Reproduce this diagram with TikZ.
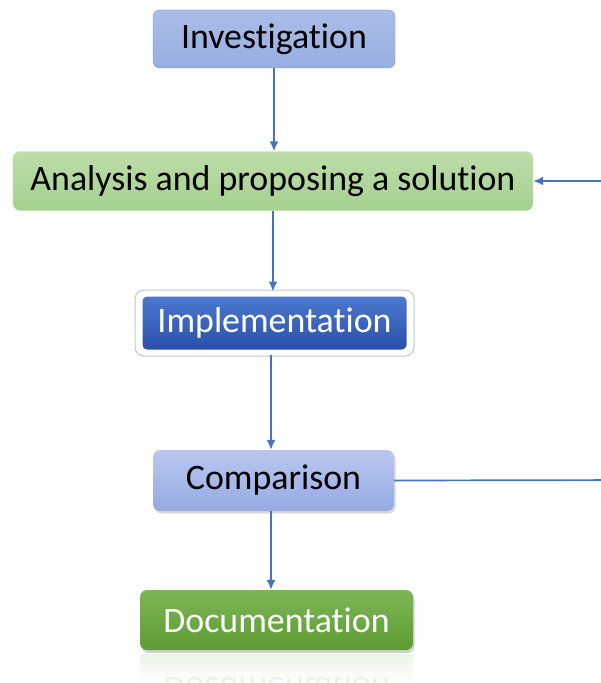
\documentclass[tikz,border=0pt]{standalone}
\usepackage{fontspec}
\setmainfont[Ligatures=NoCommon]{Carlito}
\usetikzlibrary{arrows.meta,shadows}
\definecolor{linkblue}{RGB}{68,114,196}
\definecolor{invtop}{RGB}{171,189,232}
\definecolor{invbot}{RGB}{152,174,226}
\definecolor{invline}{RGB}{112,142,212}
\definecolor{anatop}{RGB}{189,221,171}
\definecolor{anabot}{RGB}{165,208,142}
\definecolor{anaLine}{RGB}{200,226,184}
\definecolor{imptop}{RGB}{78,122,210}
\definecolor{impbot}{RGB}{40,78,166}
\definecolor{cmptop}{RGB}{186,199,240}
\definecolor{cmpbot}{RGB}{150,170,226}
\definecolor{doctop}{RGB}{124,182,84}
\definecolor{docbot}{RGB}{94,156,52}
\begin{document}
\begin{tikzpicture}[>={Latex[length=10bp,width=9bp]},line join=bevel,x=1bp,y=-1bp,
  box/.style={rounded corners=7bp,inner sep=0pt,font=\fontsize{36}{40}\selectfont},
  link/.style={draw=linkblue,line width=1.7bp,->}]
\useasboundingbox (0,0) rectangle (601,683);
\clip (0,0) rectangle (601,683);
%%
\node (node_0) at (274,39) [box,draw=invline,top color=invtop,bottom color=invbot,
  minimum width=242bp,minimum height=58bp] {Investigation};
\node (node_1) at (273,181) [box,draw=anaLine,top color=anatop,bottom color=anabot,
  minimum width=520bp,minimum height=59bp] {Analysis and proposing a solution};
\draw [gray!45,line width=1bp,rounded corners=9bp] (135,290) rectangle (414,356);
\node (node_2) at (274.5,323) [box,draw=white,line width=5bp,top color=imptop,bottom color=impbot,
  text=white,minimum width=269bp,minimum height=58bp] {Implementation};
\node (node_3) at (273.5,480.5) [box,top color=cmptop,bottom color=cmpbot,
  minimum width=241bp,minimum height=61bp,
  drop shadow={shadow xshift=1.5bp,shadow yshift=-2.5bp,opacity=0.3}] {Comparison};
\node (node_4) at (276.5,620) [box,top color=doctop,bottom color=docbot,text=white,
  minimum width=273bp,minimum height=60bp,
  drop shadow={shadow xshift=1.5bp,shadow yshift=-3bp,opacity=0.35}] {Documentation};
% reflection
\fill [top color=doctop!15,bottom color=white] (140,654) rectangle (413,683);
\node (node_5) at (276.5,690) [box,yscale=-1,text=doctop!16] {Documentation};
%
\draw [link] (node_0.south) -- (node_0.south |- node_1.north);
\draw [link] (node_1.south) -- (node_1.south |- node_2.north);
\draw [link] ([xshift=-3.5bp]node_2.south) -- ([xshift=-3.5bp]node_2.south |- node_3.north);
\draw [link] ([xshift=-2.5bp]node_3.south) -- ([xshift=-2.5bp]node_3.south |- node_4.north);
\draw [link] (node_3.east) -- (640,480) |- (node_1.east);
%
\end{tikzpicture}
\end{document}
